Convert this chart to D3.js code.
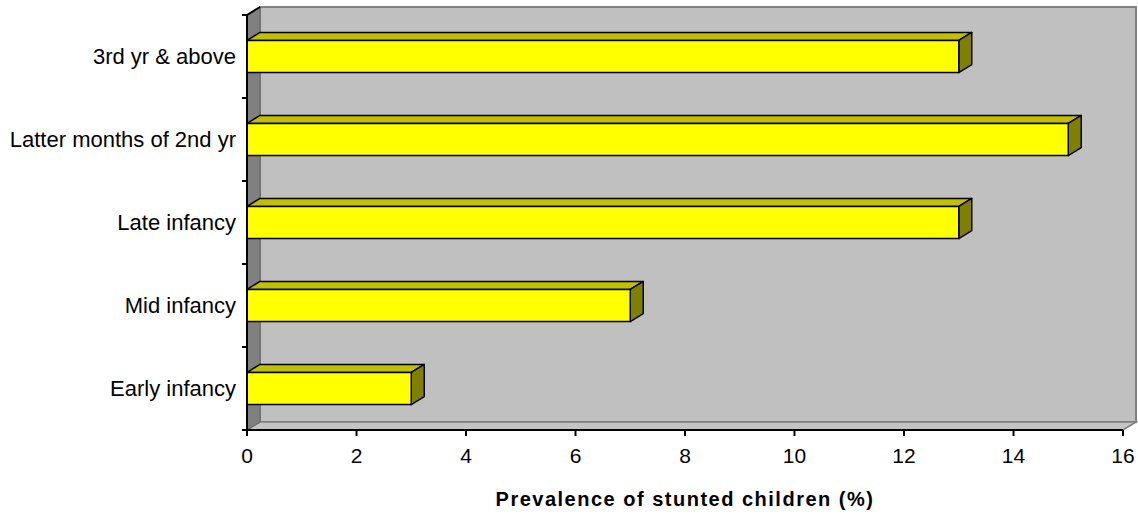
<!DOCTYPE html>
<html>
<head>
<meta charset="utf-8">
<script src="https://cdn.jsdelivr.net/npm/d3@7"></script>
<style>
  body { margin: 0; background: #fff; }
  svg text { font-family: "Liberation Sans", Arial, sans-serif; fill: #000; }
</style>
</head>
<body>
<div id="chart"></div>
<script>
// categories bottom -> top
const categories = ["Early infancy", "Mid infancy", "Late infancy", "Latter months of 2nd yr", "3rd yr & above"];
const values = [3, 7, 13, 15, 13];
const xTicks = [0, 2, 4, 6, 8, 10, 12, 14, 16];
const xTitle = "Prevalence of stunted children (%)";

const width = 1138;
const height = 518;
const plotL = 247, plotR = 1123, plotT = 15, plotB = 430;
const dx = 13, dy = -8; // 3d depth offset

const svg = d3.select("#chart").append("svg")
    .attr("width", width)
    .attr("height", height);

const x = d3.scaleLinear().domain([0, 16]).range([plotL, plotR]);
const y = d3.scaleBand()
    .domain(categories)
    .range([plotB, plotT])
    .paddingInner(0.614)
    .paddingOuter(0.307);

// back wall
svg.append("rect")
    .attr("x", plotL + dx).attr("y", plotT + dy)
    .attr("width", plotR - plotL).attr("height", plotB - plotT)
    .attr("fill", "#c0c0c0")
    .attr("stroke", "#808080").attr("stroke-width", 2);

// floor
svg.append("polygon")
    .attr("points", [[plotL, plotB], [plotL + dx, plotB + dy], [plotR + dx, plotB + dy], [plotR, plotB]].join(" "))
    .attr("fill", "#c4c4c4")
    .attr("stroke", "#808080").attr("stroke-width", 1.5);

// left wall
svg.append("polygon")
    .attr("points", [[plotL, plotT], [plotL + dx, plotT + dy], [plotL + dx, plotB + dy], [plotL, plotB]].join(" "))
    .attr("fill", "#808080")
    .attr("stroke", "#666").attr("stroke-width", 1);

svg.append("line")
    .attr("x1", plotL).attr("y1", plotT).attr("x2", plotL + dx).attr("y2", plotT + dy)
    .attr("stroke", "#000").attr("stroke-width", 2);

// bars
const bars = svg.append("g").selectAll("g")
    .data(categories.map((c, i) => ({ c, v: values[i] })))
    .join("g");

bars.append("polygon") // top face
    .attr("points", d => {
        const y0 = y(d.c), x1 = x(d.v);
        return [[plotL, y0], [plotL + dx, y0 + dy], [x1 + dx, y0 + dy], [x1, y0]].join(" ");
    })
    .attr("fill", "#c0c000")
    .attr("stroke", "#000").attr("stroke-width", 1.5).attr("stroke-linejoin", "round");

bars.append("polygon") // side face
    .attr("points", d => {
        const y0 = y(d.c), x1 = x(d.v), h = y.bandwidth();
        return [[x1, y0], [x1 + dx, y0 + dy], [x1 + dx, y0 + h + dy], [x1, y0 + h]].join(" ");
    })
    .attr("fill", "#808000")
    .attr("stroke", "#000").attr("stroke-width", 1.5).attr("stroke-linejoin", "round");

bars.append("rect") // front face
    .attr("x", plotL)
    .attr("y", d => y(d.c))
    .attr("width", d => x(d.v) - plotL)
    .attr("height", y.bandwidth())
    .attr("fill", "#ffff00")
    .attr("stroke", "#000").attr("stroke-width", 1.5);

// y axis
const yAxis = svg.append("g");
yAxis.append("line")
    .attr("x1", plotL).attr("x2", plotL).attr("y1", plotT).attr("y2", plotB)
    .attr("stroke", "#000").attr("stroke-width", 2);
const step = y.step();
yAxis.selectAll(".ytick")
    .data(d3.range(categories.length + 1))
    .join("line")
    .attr("x1", plotL - 5).attr("x2", plotL)
    .attr("y1", i => plotB - i * step).attr("y2", i => plotB - i * step)
    .attr("stroke", "#000").attr("stroke-width", 2);
yAxis.selectAll("text")
    .data(categories)
    .join("text")
    .attr("x", 236)
    .attr("y", d => y(d) + y.bandwidth() / 2)
    .attr("dy", "0.35em")
    .attr("text-anchor", "end")
    .style("font-size", "22px")
    .text(d => d);

// x axis
const xAxis = svg.append("g");
xAxis.append("line")
    .attr("x1", plotL).attr("x2", plotR).attr("y1", plotB).attr("y2", plotB)
    .attr("stroke", "#000").attr("stroke-width", 2);
xAxis.selectAll("line.xt")
    .data(xTicks)
    .join("line")
    .attr("class", "xt")
    .attr("x1", d => x(d)).attr("x2", d => x(d))
    .attr("y1", plotB).attr("y2", plotB + 6)
    .attr("stroke", "#000").attr("stroke-width", 2);
xAxis.selectAll("text")
    .data(xTicks)
    .join("text")
    .attr("x", d => x(d))
    .attr("y", 463)
    .attr("text-anchor", "middle")
    .style("font-size", "21px")
    .text(d => d);

svg.append("text")
    .attr("x", (plotL + plotR) / 2)
    .attr("y", 506)
    .attr("text-anchor", "middle")
    .style("font-size", "20px")
    .style("font-weight", "bold")
    .style("letter-spacing", "1.5px")
    .text(xTitle);
</script>
</body>
</html>
